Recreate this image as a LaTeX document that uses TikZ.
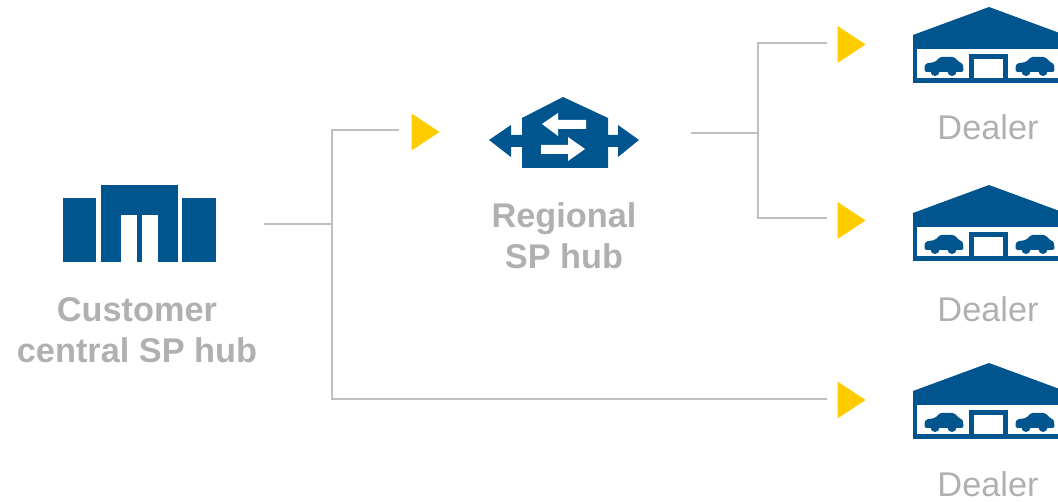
\documentclass[tikz,border=0pt]{standalone}
\usepackage{fontspec}
\usetikzlibrary{shapes.geometric}
\setmainfont{Liberation Sans}
\definecolor{hubblue}{HTML}{00558F}
\definecolor{linegray}{HTML}{BFBFBF}
\definecolor{textgray}{HTML}{B0B0B0}
\definecolor{markyellow}{HTML}{FFCC00}
\tikzset{
  link/.style={draw=linegray, line width=2.2pt},
  icon/.style={fill=hubblue, draw=none},
  gap/.style={fill=white, draw=none},
  hublabel/.style={text=textgray, font=\fontsize{34.3}{41}\selectfont\bfseries, align=center, inner sep=0pt},
  dealerlabel/.style={text=textgray, font=\fontsize{34.3}{41}\selectfont, inner sep=0pt},
  marker/.style={fill=markyellow, draw=none, isosceles triangle, isosceles triangle stretches,
    minimum width=37pt, minimum height=28pt, inner sep=0pt},
  car/.pic={
    \fill[hubblue, rounded corners=1.5pt] (0.5,22) -- (0.5,16) -- (2,13.5) -- (11,12) -- (16,7) -- (30,7) -- (35,12) -- (39,14) -- (39.5,22) -- cycle;
    \fill[hubblue] (11,21.5) circle (4.5) (28,21.5) circle (4.5);
  },
  dealer/.pic={
    \fill[hubblue] (989,7) -- (1065,35) -- (1065,83) -- (913,83) -- (913,35) -- cycle;
    \fill[white] (917,49) rectangle (1061,78);
    \fill[hubblue] (969,54) rectangle (1008,78);
    \fill[white] (974,59) rectangle (1003,78);
    \pic at (924,50) {car};
    \pic at (1015,50) {car};
  }
}
\begin{document}
\begin{tikzpicture}[x=1pt, y=-1pt]
\useasboundingbox (0,0) rectangle (1058,502);
\clip (0,0) rectangle (1058,502);
% customer hub
\fill[icon] (63,198) rectangle (96,262);
\fill[icon] (101,185) rectangle (177.5,262);
\fill[icon] (182,198) rectangle (216,262);
\fill[gap] (120.5,215) rectangle (137,262);
\fill[gap] (141.5,215) rectangle (158,262);
\node[hublabel] (customer) at (137,330) {Customer\\central SP hub};
% regional hub
\fill[icon] (563,97) -- (608,118) -- (608,135) -- (618,135) -- (618,125) -- (639,140) -- (618,157)
  -- (618,147) -- (608,147) -- (608,168) -- (522,168) -- (522,147) -- (511,147) -- (511,157)
  -- (489,140) -- (511,125) -- (511,135) -- (522,135) -- (522,118) -- cycle;
\fill[gap] (542,124) -- (558,113) -- (558,120) -- (586,120) -- (586,129) -- (558,129) -- (558,136) -- cycle;
\fill[gap] (585,149) -- (568,137) -- (568,145) -- (541,145) -- (541,154) -- (568,154) -- (568,161) -- cycle;
\node[hublabel] (regional) at (564,236) {Regional\\SP hub};
% dealers
\pic at (0,0) {dealer};
\pic at (0,178) {dealer};
\pic at (0,356) {dealer};
\node[dealerlabel] (dealer1) at (988,127) {Dealer};
\node[dealerlabel] (dealer2) at (988,309) {Dealer};
\node[dealerlabel] (dealer3) at (988,484) {Dealer};
% markers
\node[marker] (mark0) at (421.5,132) {};
\node[marker] (mark1) at (847.5,44.5) {};
\node[marker] (mark2) at (847.5,220.5) {};
\node[marker] (mark3) at (847.5,400) {};
% links
\coordinate (hubout) at (264,224);
\coordinate (hubjoin) at (332,224);
\coordinate (regin) at (399,130);
\coordinate (regout) at (691,133);
\coordinate (regjoin) at (758,133);
\coordinate (dealin1) at (827,43);
\coordinate (dealin2) at (827,218);
\coordinate (dealin3) at (827,399);
\draw[link] (hubout) -- (hubjoin);
\draw[link] (regin) -- (hubjoin |- regin) -- (hubjoin |- dealin3) -- (dealin3);
\draw[link] (regout) -- (regjoin);
\draw[link] (dealin1) -- (regjoin |- dealin1) -- (regjoin |- dealin2) -- (dealin2);
\end{tikzpicture}
\end{document}
